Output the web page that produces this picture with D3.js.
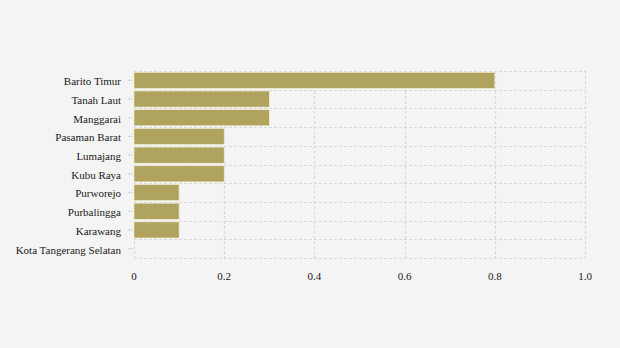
<!DOCTYPE html>
<html><head><meta charset="utf-8">
<script src="https://cdn.jsdelivr.net/npm/d3@7"></script>
<style>
html,body{margin:0;padding:0;background:#f4f4f4;}
svg{display:block;}
text{font-family:"Liberation Serif","Times New Roman",serif;font-size:11px;fill:#1a1a1a;}
</style></head>
<body>
<script>
const categories = ["Barito Timur","Tanah Laut","Manggarai","Pasaman Barat","Lumajang","Kubu Raya","Purworejo","Purbalingga","Karawang","Kota Tangerang Selatan"];
const values = [0.8,0.3,0.3,0.2,0.2,0.2,0.1,0.1,0.1,0];
const xTicks = [0,0.2,0.4,0.6,0.8,1.0];
const xTickLabels = ["0","0.2","0.4","0.6","0.8","1.0"];

const W=620,H=348;
const m={left:134,right:35,top:71,bottom:90};
const svg=d3.select("body").append("svg").attr("width",W).attr("height",H);
svg.append("rect").attr("width",W).attr("height",H).attr("fill","#f4f4f4");

const x=d3.scaleLinear().domain([0,1]).range([m.left,W-m.right]);
const y=d3.scaleBand().domain(categories).range([m.top,H-m.bottom]).paddingInner(0.14).paddingOuter(0.07);
const yb=d3.scaleBand().domain(categories).range([m.top,H-m.bottom]);

const grid=svg.append("g").attr("stroke","#d9d9d9").attr("stroke-width",1.2).attr("stroke-dasharray","3,2");
const bounds=categories.map(c=>yb(c)).concat([H-m.bottom]);
grid.selectAll("line.h").data(bounds).join("line")
  .attr("x1",m.left).attr("x2",W-m.right)
  .attr("y1",d=>Math.round(d)+0.5).attr("y2",d=>Math.round(d)+0.5);
grid.selectAll("line.v").data(xTicks).join("line")
  .attr("x1",d=>Math.round(x(d))+0.5).attr("x2",d=>Math.round(x(d))+0.5)
  .attr("y1",m.top).attr("y2",H-m.bottom);

svg.append("g").selectAll("line").data(categories).join("line")
  .attr("x1",m.left-6).attr("x2",m.left-1)
  .attr("y1",d=>yb(d)+yb.bandwidth()/2).attr("y2",d=>yb(d)+yb.bandwidth()/2)
  .attr("stroke","#d9d9d9").attr("stroke-width",1.2);

svg.append("g").selectAll("rect").data(values).join("rect")
  .attr("x",x(0)).attr("y",(d,i)=>y(categories[i]))
  .attr("width",d=>x(d)-x(0)).attr("height",y.bandwidth())
  .attr("fill","#b0a35d").attr("stroke","#f4f0d8").attr("stroke-width",d=>d>0?0.6:0);

svg.append("g").selectAll("text").data(categories).join("text")
  .attr("x",121).attr("y",d=>yb(d)+yb.bandwidth()/2+1)
  .attr("dy","0.35em").attr("text-anchor","end").text(d=>d);

svg.append("g").selectAll("text").data(xTicks).join("text")
  .attr("x",d=>x(d)).attr("y",280).attr("text-anchor","middle")
  .text((d,i)=>xTickLabels[i]);
</script>
</body></html>
